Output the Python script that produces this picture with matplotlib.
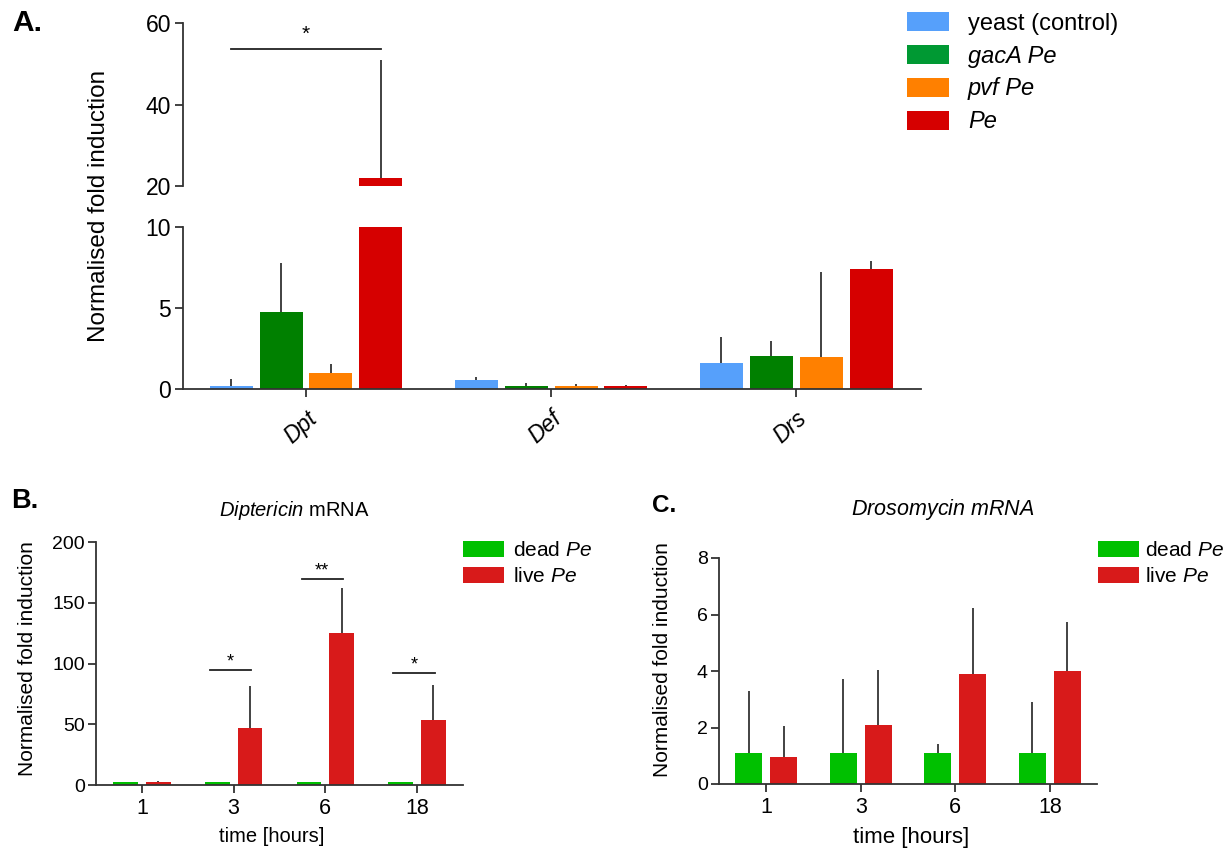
import numpy as np
import matplotlib
matplotlib.use("Agg")
import matplotlib.pyplot as plt
from matplotlib.patches import Patch

plt.rcParams['font.family'] = ['Liberation Sans', 'DejaVu Sans']
plt.rcParams['mathtext.fontset'] = 'custom'
plt.rcParams['mathtext.rm'] = 'Liberation Sans'
plt.rcParams['mathtext.it'] = 'Liberation Sans:italic'
plt.rcParams['axes.edgecolor'] = '#333333'
plt.rcParams['xtick.color'] = '#333333'
plt.rcParams['ytick.color'] = '#333333'
plt.rcParams['xtick.labelcolor'] = 'black'
plt.rcParams['ytick.labelcolor'] = 'black'

# ---------------- Panel A data ----------------
genes = ['Dpt', 'Def', 'Drs']
strains = ['yeast (control)', 'gacA Pe', 'pvf Pe', 'Pe']
yeast_mean = [0.2, 0.55, 1.6]
yeast_err = [0.4, 0.2, 1.6]
gacA_mean = [4.75, 0.2, 2.05]
gacA_err = [3.05, 0.15, 0.9]
pvf_mean = [1.0, 0.17, 2.0]
pvf_err = [0.55, 0.15, 5.2]
pe_mean = [22.0, 0.17, 7.38]
pe_err = [29.0, 0.1, 0.52]
a_colors = ['#56A0FB', '#008000', '#FF8000', '#D60000']
a_legend_colors = ['#56A0FB', '#009933', '#FF8000', '#D60000']
sig_a_level = 53.7

# ---------------- Panels B / C data ----------------
timepoints = ['1', '3', '6', '18']
dip_dead = [2.2, 2.2, 2.2, 2.2]
dip_dead_err = [0.0, 0.0, 0.0, 0.0]
dip_live = [2.6, 46.9, 125.4, 53.2]
dip_live_err = [0.5, 34.3, 37.1, 29.4]
dip_sig_levels = [None, 94.4, 169.3, 92.0]
dip_sig_labels = [None, '*', '**', '*']

dro_dead = [1.08, 1.08, 1.08, 1.08]
dro_dead_err = [2.22, 2.63, 0.32, 1.81]
dro_live = [0.96, 2.1, 3.91, 3.99]
dro_live_err = [1.09, 1.93, 2.33, 1.73]

bc_colors = ['#00C000', '#D81A1A']
bc_labels = ['dead $\\mathit{Pe}$', 'live $\\mathit{Pe}$']

W, H = 1231, 849
fig = plt.figure(figsize=(W / 100, H / 100), dpi=100)


def px_axes(x0, y0, x1, y1):
    """Axes from pixel box (left, top, right, bottom)."""
    return fig.add_axes([x0 / W, 1 - y1 / H, (x1 - x0) / W, (y1 - y0) / H])


def ptext(x, y, s, **kw):
    """Figure text placed at pixel coordinates (origin top-left)."""
    kw.setdefault('ha', 'center')
    kw.setdefault('va', 'center')
    return fig.text(x / W, 1 - y / H, s, **kw)


def style(ax, fs, length=6):
    for s in ('top', 'right'):
        ax.spines[s].set_visible(False)
    for s in ('left', 'bottom'):
        ax.spines[s].set_linewidth(1.3)
    ax.tick_params(axis='both', width=1.3, length=length, labelsize=fs, pad=2.5)


# ---------------- Panel A (broken y axis) ----------------
ax_hi = px_axes(183, 23, 921, 186)
ax_lo = px_axes(183, 227, 921, 389)
gx = np.arange(len(genes))
offsets = np.array([-0.306, -0.102, 0.102, 0.306])
bw = 0.1755
means = [yeast_mean, gacA_mean, pvf_mean, pe_mean]
errs = [yeast_err, gacA_err, pvf_err, pe_err]
for ax in (ax_hi, ax_lo):
    for k in range(4):
        xs = gx + offsets[k]
        ax.bar(xs, means[k], width=bw, color=a_colors[k], edgecolor='none', zorder=2)
        ax.errorbar(xs, means[k], yerr=[np.zeros(3), errs[k]], fmt='none',
                    ecolor='#333333', elinewidth=1.3, capsize=0, zorder=1)
    ax.set_xlim(-0.502, 2.51)
    style(ax, 16.5)

ax_hi.set_ylim(20, 60)
ax_hi.set_yticks([20, 40, 60])
ax_hi.spines['bottom'].set_visible(False)
ax_hi.tick_params(axis='x', bottom=False, labelbottom=False)

ax_lo.set_ylim(0, 10)
ax_lo.set_yticks([0, 5, 10])
ax_lo.set_xticks(gx)
ax_lo.set_xticklabels(genes, rotation=42, ha='right', rotation_mode='anchor',
                      fontstyle='italic', fontsize=16.5)
ax_lo.tick_params(axis='x', pad=7)

# significance bracket for Dpt
x_l, x_r = gx[0] + offsets[0], gx[0] + offsets[3]
ax_hi.plot([x_l, x_r], [sig_a_level, sig_a_level], color='#222222', lw=1.3, clip_on=False)
ax_hi.text((x_l + x_r) / 2, sig_a_level + 3.5, '*', ha='center', va='center', fontsize=15)

ptext(99, 206, 'Normalised fold induction', rotation=90, fontsize=17.5)

handles_a = [Patch(facecolor=c, edgecolor='none') for c in a_legend_colors]
leg_a = fig.legend(handles_a, strains, loc='upper left',
                   bbox_to_anchor=(907 / W, 1 - 12 / H), frameon=False, fontsize=17,
                   handlelength=1.78, handleheight=0.85, labelspacing=0.42,
                   handletextpad=0.8, borderaxespad=0, borderpad=0)
for t in leg_a.get_texts()[1:]:
    t.set_fontstyle('italic')

ptext(12, 23, 'A.', fontsize=21.5, fontweight='bold', ha='left')


# ---------------- Panels B and C ----------------
def time_panel(box, dead, dead_err, live, live_err, ylim, yticks, off, bw2):
    ax = px_axes(*box)
    tx = np.arange(len(timepoints))
    ax.bar(tx - off, dead, width=bw2, color=bc_colors[0], edgecolor='none', zorder=2)
    ax.bar(tx + off, live, width=bw2, color=bc_colors[1], edgecolor='none', zorder=2)
    ax.errorbar(tx - off, dead, yerr=[np.zeros(4), dead_err], fmt='none',
                ecolor='#222222', elinewidth=1.2, capsize=0, zorder=1)
    ax.errorbar(tx + off, live, yerr=[np.zeros(4), live_err], fmt='none',
                ecolor='#222222', elinewidth=1.2, capsize=0, zorder=1)
    ax.set_xlim(-0.5, 3.5)
    ax.set_ylim(*ylim)
    ax.set_yticks(yticks)
    ax.set_xticks(tx)
    ax.set_xticklabels(timepoints)
    style(ax, 14, length=5.5)
    ax.tick_params(axis='x', pad=4, labelsize=15.5)
    return ax


ax_b = time_panel((96, 542, 463, 785), dip_dead, dip_dead_err, dip_live, dip_live_err,
                  (0, 200), [0, 50, 100, 150, 200], 0.178, 0.27)
for i, (lvl, lab) in enumerate(zip(dip_sig_levels, dip_sig_labels)):
    if lvl is None:
        continue
    xl, xr = i - 0.26, i + 0.19
    ax_b.plot([xl, xr], [lvl, lvl], color='#222222', lw=1.3)
    ax_b.text((xl + xr) / 2, lvl + 7, lab, ha='center', va='center', fontsize=13)

ptext(294, 510, '$\\mathit{Diptericin}$ mRNA', fontsize=14.5)
ptext(28, 659, 'Normalised fold induction', rotation=90, fontsize=15)
ptext(272, 837, 'time [hours]', fontsize=14.5)

ax_c = time_panel((719, 558, 1097, 784), dro_dead, dro_dead_err, dro_live, dro_live_err,
                  (0, 8), [0, 2, 4, 6, 8], 0.185, 0.29)
ptext(943, 509, '$\\mathit{Drosomycin\\ mRNA}$', fontsize=15.5)
ptext(663, 660, 'Normalised fold induction', rotation=90, fontsize=15)
ptext(911, 837, 'time [hours]', fontsize=16)

for x0, pad in ((463, 0.43), (1098, 0.3)):
    hs = [Patch(facecolor=c, edgecolor='none') for c in bc_colors]
    fig.legend(hs, bc_labels, loc='upper left', bbox_to_anchor=(x0 / W, 1 - 541 / H),
               frameon=False, fontsize=15, handlelength=1.97, handleheight=0.84,
               labelspacing=0.3, handletextpad=pad, borderaxespad=0, borderpad=0)

ptext(11, 501, 'B.', fontsize=19.5, fontweight='bold', ha='left')
ptext(652, 505, 'C.', fontsize=17.5, fontweight='bold', ha='left')

fig.savefig('out.png', dpi=100, facecolor='white')
